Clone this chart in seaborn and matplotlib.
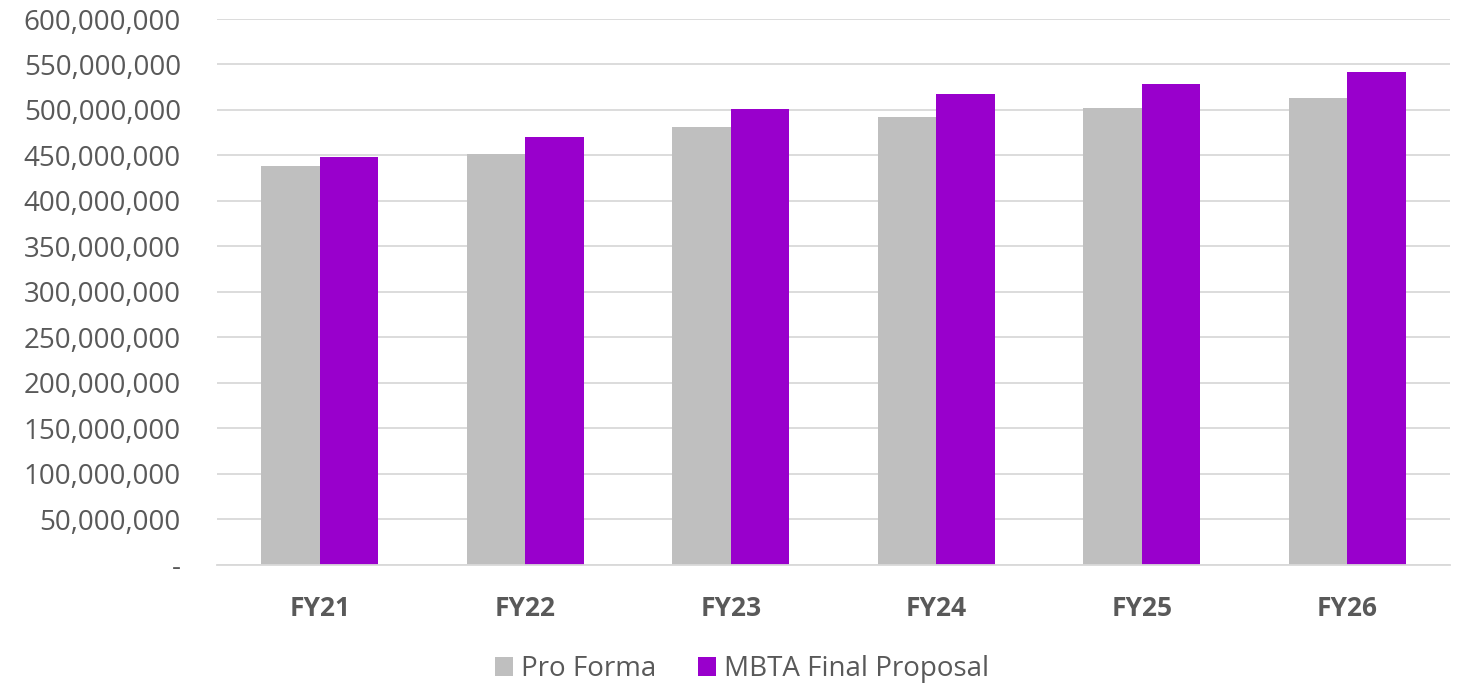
import matplotlib
matplotlib.use("Agg")
import matplotlib.pyplot as plt
import matplotlib.ticker as mticker
import seaborn as sns
import pandas as pd

categories = ["FY21", "FY22", "FY23", "FY24", "FY25", "FY26"]
pro_forma = [438_000_000, 452_000_000, 481_500_000, 491_800_000, 502_000_000, 513_000_000]
mbta_final = [447_800_000, 469_800_000, 500_500_000, 517_400_000, 528_800_000, 541_500_000]
series_names = ["Pro Forma", "MBTA Final Proposal"]
colors = ["#BFBFBF", "#9900CC"]

df = pd.DataFrame({
    "Year": categories * 2,
    "Value": pro_forma + mbta_final,
    "Series": [series_names[0]] * len(categories) + [series_names[1]] * len(categories),
})

sns.set_style("white")
plt.rcParams['font.family'] = ['Open Sans', 'DejaVu Sans']
text_color = "#595959"

fig = plt.figure(figsize=(14.63, 6.84), dpi=100)
ax = fig.add_axes([217 / 1463, 1 - 564.5 / 684, (1450 - 217) / 1463, (564.5 - 19) / 684])

sns.barplot(data=df, x="Year", y="Value", hue="Series", palette=colors,
            width=0.57, ax=ax, saturation=1, legend=True, linewidth=0)

ax.set_ylim(0, 600_000_000)
ax.set_xlim(-0.5, len(categories) - 0.5)
ax.yaxis.set_major_locator(mticker.MultipleLocator(50_000_000))
ax.yaxis.set_major_formatter(mticker.FuncFormatter(lambda v, p: "-" if v == 0 else f"{int(v):,}"))
ax.grid(axis="y", color="#D9D9D9", linewidth=1.3)
ax.set_axisbelow(True)
for s in ["left", "right", "top"]:
    ax.spines[s].set_visible(False)
ax.spines["bottom"].set_color("#D9D9D9")
ax.spines["bottom"].set_linewidth(1.3)
ax.tick_params(axis="y", length=0, labelsize=20, colors=text_color, pad=26)
ax.tick_params(axis="x", length=0, labelsize=19, colors=text_color, pad=22)
for lbl in ax.get_xticklabels():
    lbl.set_fontweight("bold")
ax.set_xlabel("")
ax.set_ylabel("")

handles, labels = ax.get_legend_handles_labels()
ax.legend_.remove()
fig.legend(handles, labels, loc="center", bbox_to_anchor=(742 / 1463, 1 - 669 / 684), ncol=2,
           frameon=False, fontsize=20, labelcolor=text_color, handlelength=0.65,
           handleheight=0.65, handletextpad=0.3, columnspacing=1.5)

fig.savefig("out.png", dpi=100)
